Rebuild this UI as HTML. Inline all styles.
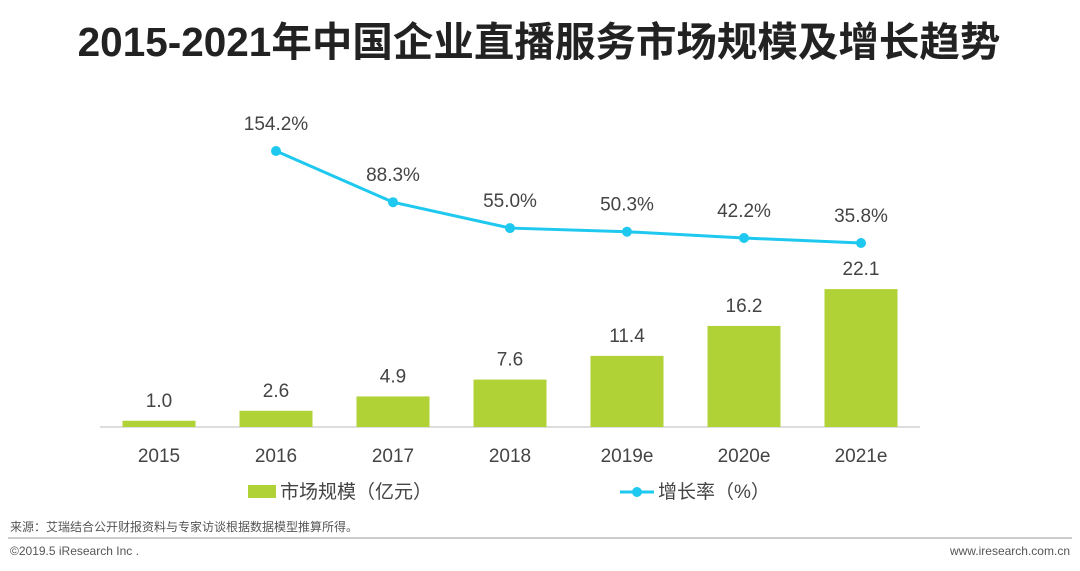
<!DOCTYPE html>
<html><head><meta charset="utf-8"><style>
body{margin:0;width:1080px;height:566px;background:#fff;overflow:hidden;font-family:"Liberation Sans","Noto Sans CJK SC",sans-serif;}
</style></head><body>
<svg width="1080" height="566" xmlns="http://www.w3.org/2000/svg" id="chart">
<text x="539" y="56" text-anchor="middle" font-size="40.5" font-weight="bold" fill="#222" font-family="Liberation Sans,Noto Sans CJK SC,sans-serif">2015-2021年中国企业直播服务市场规模及增长趋势</text>
<line x1="100" y1="427" x2="920" y2="427" stroke="#bbb" stroke-width="1"/>
<g id="bars"></g><g id="line"></g><g id="labels"></g>
<g>
<rect x="248" y="485" width="28" height="13" fill="#b0d236"/>
<text x="280" y="498" font-size="19" fill="#444">市场规模（亿元）</text>
<line x1="620" y1="492" x2="654" y2="492" stroke="#1ec8ee" stroke-width="3"/>
<circle cx="637" cy="492" r="5" fill="#1ec8ee"/>
<text x="658" y="498" font-size="19" fill="#444">增长率（%）</text>
</g>
<text x="10" y="531" font-size="12" fill="#555">来源：艾瑞结合公开财报资料与专家访谈根据数据模型推算所得。</text>
<line x1="8" y1="538" x2="1072" y2="538" stroke="#999" stroke-width="1"/>
<text x="10" y="555" font-size="12" fill="#555">©2019.5 iResearch Inc .</text>
<text x="1070" y="555" font-size="12" fill="#555" text-anchor="end">www.iresearch.com.cn</text>
</svg>
<script>
const categories=["2015","2016","2017","2018","2019e","2020e","2021e"];
const marketSize=[1.0,2.6,4.9,7.6,11.4,16.2,22.1];
const growthRate=[null,154.2,88.3,55.0,50.3,42.2,35.8];
const NS="http://www.w3.org/2000/svg";
const xc=i=>159+i*117;
const yBar=v=>427-v*6.24;
const yLine=v=>270.8-v*0.777;
function mk(tag,attrs,parent){const e=document.createElementNS(NS,tag);for(const k in attrs)e.setAttribute(k,attrs[k]);document.getElementById(parent).appendChild(e);return e;}
let pts=[];
categories.forEach((c,i)=>{
 const v=marketSize[i];
 const r=mk("rect",{x:xc(i)-36.5,y:yBar(v),width:73,height:427-yBar(v),fill:"#b0d236"},"bars");
 
 
 const t=mk("text",{x:xc(i),y:yBar(v)-14,"text-anchor":"middle","font-size":"19",fill:"#444"},"labels");
 t.textContent=v.toFixed(1);
 
 
 const a=mk("text",{x:xc(i),y:462,"text-anchor":"middle","font-size":"19",fill:"#444"},"labels");
 a.textContent=c;
 
 
 if(growthRate[i]!=null){pts.push([xc(i),yLine(growthRate[i]),growthRate[i],c]);}
});
const pl=mk("polyline",{points:pts.map(p=>p[0]+","+p[1]).join(" "),fill:"none",stroke:"#1ec8ee","stroke-width":"3"},"line");


pts.forEach(p=>{
 const c=mk("circle",{cx:p[0],cy:p[1],r:5,fill:"#1ec8ee"},"line");
 
 
 const t=mk("text",{x:p[0],y:p[1]-21,"text-anchor":"middle","font-size":"19",fill:"#444"},"labels");
 t.textContent=p[2].toFixed(1)+"%";
 
 
});
</script>
</body></html>
